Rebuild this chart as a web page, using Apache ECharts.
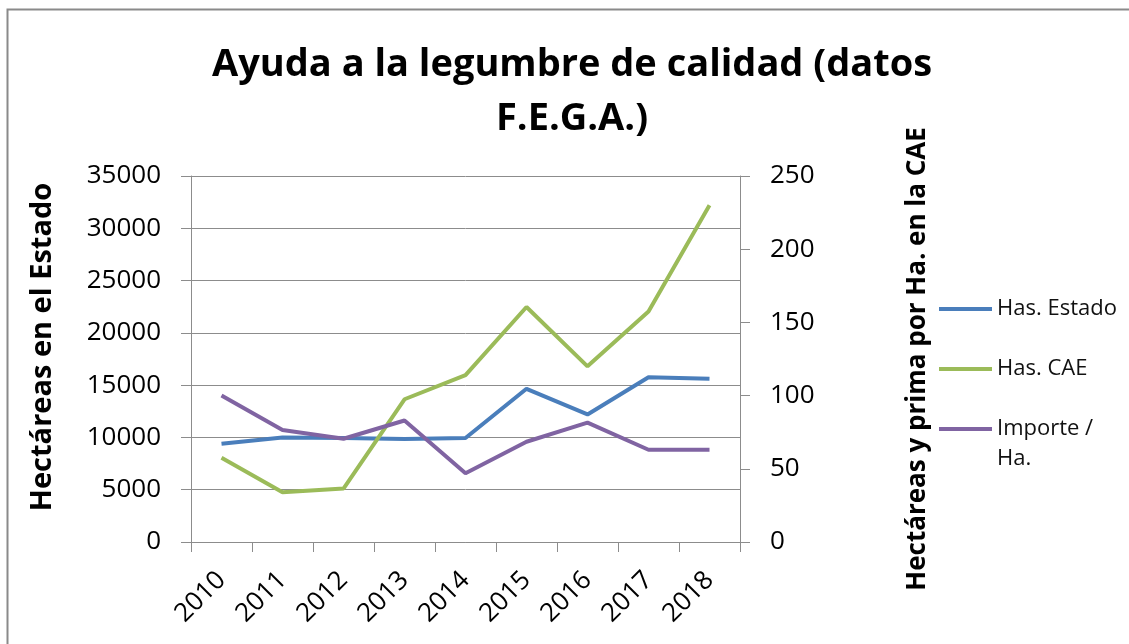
<!DOCTYPE html>
<html>
<head>
<meta charset="utf-8">
<title>Ayuda a la legumbre de calidad</title>
<script src="https://cdn.jsdelivr.net/npm/echarts@6/dist/echarts.min.js"></script>
<style>
  html, body { margin: 0; padding: 0; background: #fff; }
  #chart { width: 1129px; height: 644px; }
</style>
</head>
<body>
<div id="chart"></div>
<script>
// datos
var years = ['2010', '2011', '2012', '2013', '2014', '2015', '2016', '2017', '2018'];
var hasEstado = [9400, 10000, 9950, 9850, 9950, 14650, 12200, 15750, 15600];
var hasCAE = [57.5, 34, 36.5, 97.5, 114, 160.5, 120, 157.5, 230];
var importeHa = [100, 76.5, 70.5, 83, 47, 68.5, 81.5, 63, 63];

var names = ['Has. Estado', 'Has. CAE', 'Importe / Ha.'];
var colors = ['#4a7ebb', '#9bbb59', '#8064a2'];

var font = 'Open Sans';
var gray = '#8c8c8c';

var myChart = echarts.init(document.getElementById('chart'));

// una leyenda por serie para poder colocarlas como en el original
function legendItem(name, top) {
  return {
    data: [name],
    orient: 'vertical',
    left: 939,
    top: top,
    padding: 0,
    selectedMode: false,
    icon: 'rect',
    itemWidth: 53,
    itemHeight: 4,
    itemGap: 0,
    textStyle: { fontFamily: font, fontSize: 22, color: '#111', lineHeight: 30 },
    formatter: function (n) {
      return n === 'Importe / Ha.' ? '\nImporte /\nHa.' : n;
    }
  };
}

var option = {
  animation: false,
  color: colors,
  graphic: [{
    type: 'rect',
    shape: { x: 7.5, y: 9.5, width: 1300, height: 800 },
    style: { fill: 'none', stroke: '#8a8a8a', lineWidth: 2 },
    silent: true
  }],
  title: {
    text: 'Ayuda a la legumbre de calidad (datos\nF.E.G.A.)',
    left: 572,
    top: 38,
    padding: 0,
    textAlign: 'center',
    textStyle: { fontFamily: font, fontSize: 38, fontWeight: 'bold', color: '#000', lineHeight: 54 }
  },
  legend: [
    legendItem(names[0], 294),
    legendItem(names[1], 354),
    legendItem(names[2], 384)
  ],
  grid: { left: 191, right: 389, top: 176, bottom: 102, containLabel: false },
  xAxis: {
    type: 'category',
    data: years,
    boundaryGap: true,
    axisLine: { lineStyle: { color: gray, width: 1 } },
    axisTick: { show: true, interval: 0, length: 10, lineStyle: { color: gray } },
    axisLabel: { rotate: 45, margin: 34, interval: 0, fontFamily: font, fontSize: 26, color: '#000' },
    splitLine: { show: false }
  },
  yAxis: [{
    type: 'value',
    min: 0, max: 35000, interval: 5000,
    name: 'Hectáreas en el Estado',
    nameLocation: 'middle',
    nameRotate: 90,
    nameGap: 134,
    nameTextStyle: {
      fontFamily: font, fontSize: 29, fontWeight: 'bold', color: '#000',
      padding: [0, 0, 0, 24]
    },
    axisLine: { show: true, lineStyle: { color: gray, width: 1 } },
    axisTick: { show: true, length: 10, lineStyle: { color: gray } },
    axisLabel: {
      margin: 30, fontFamily: font, fontSize: 26, color: '#000',
      formatter: function (v) { return String(v); }
    },
    splitLine: { show: true, lineStyle: { color: gray, width: 1 } }
  }, {
    type: 'value',
    position: 'right',
    min: 0, max: 250, interval: 50,
    name: 'Hectáreas y prima por Ha. en la CAE',
    nameLocation: 'middle',
    nameRotate: 90,
    nameGap: 165,
    nameTextStyle: { fontFamily: font, fontSize: 26, fontWeight: 'bold', color: '#000' },
    axisLine: { show: true, lineStyle: { color: gray, width: 1 } },
    axisTick: { show: true, length: 10, lineStyle: { color: gray } },
    axisLabel: { margin: 30, fontFamily: font, fontSize: 26, color: '#000' },
    splitLine: { show: false }
  }],
  series: [{
    name: names[0],
    type: 'line',
    yAxisIndex: 0,
    data: hasEstado,
    showSymbol: false,
    lineStyle: { width: 4, color: colors[0] }
  }, {
    name: names[1],
    type: 'line',
    yAxisIndex: 1,
    data: hasCAE,
    showSymbol: false,
    lineStyle: { width: 4, color: colors[1] }
  }, {
    name: names[2],
    type: 'line',
    yAxisIndex: 1,
    data: importeHa,
    showSymbol: false,
    lineStyle: { width: 4, color: colors[2] }
  }]
};

myChart.setOption(option);
</script>
</body>
</html>
